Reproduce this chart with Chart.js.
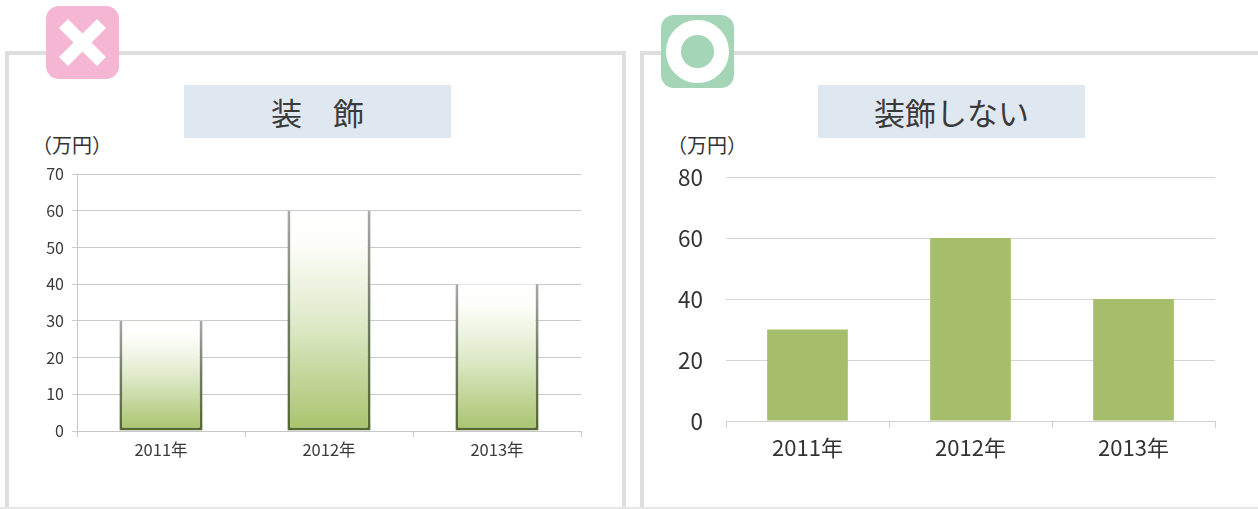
<!DOCTYPE html>
<html lang="ja">
<head>
<meta charset="utf-8">
<script src="https://cdn.jsdelivr.net/npm/chart.js@4"></script>
<style>
html,body{margin:0;padding:0;background:#fff;width:1258px;height:509px;overflow:hidden;font-family:"Noto Sans CJK JP",sans-serif;color:#333}
.abs{position:absolute;box-sizing:border-box}
.panel{border:4px solid #dedede;background:#fff}
.title{background:#dfe7f1;text-align:center;font-size:31px;line-height:53px;color:#3a3a3a}
.unit{white-space:nowrap;color:#333}
canvas{position:absolute}
</style>
</head>
<body>
<div class="abs panel" style="left:5px;top:51px;width:621px;height:470px"></div>
<div class="abs panel" style="left:640px;top:51px;width:640px;height:470px"></div>
<div class="abs" style="left:0;top:507px;width:1258px;height:2px;background:#e6e6e6"></div>

<svg class="abs" style="left:46px;top:6px" width="73" height="73" viewBox="0 0 73 73">
  <rect width="73" height="73" rx="13" fill="#f4b6d2"/>
  <path d="M13 22 L22 13 L36.500 27.500 L51 13 L60 22 L45.500 36.500 L60 51 L51 60 L36.500 45.500 L22 60 L13 51 L27.500 36.500 Z" fill="#fff"/>
</svg>
<svg class="abs" style="left:661px;top:15px" width="73" height="73" viewBox="0 0 73 73">
  <rect width="73" height="73" rx="13" fill="#a3d5b6"/>
  <circle cx="36.500" cy="36.500" r="24" fill="none" stroke="#fff" stroke-width="15"/>
</svg>

<div class="abs title" style="left:184px;top:85px;width:267px;height:53px">装　飾</div>
<div class="abs title" style="left:818px;top:85px;width:267px;height:53px">装飾しない</div>
<div class="abs unit" style="left:32px;top:131px;font-size:20px;line-height:28px">（万円）</div>
<div class="abs unit" style="left:667px;top:131px;font-size:20px;line-height:28px">（万円）</div>

<canvas id="left" width="610" height="320" style="left:10px;top:160px"></canvas>
<canvas id="right" width="613" height="320" style="left:645px;top:160px"></canvas>

<script>
const categories = ["2011年", "2012年", "2013年"];
const revenueDecorated = [30, 60, 40];
const revenuePlain = [30, 60, 40];
const leftTickMax = 70;
const leftTickStep = 10;
const rightTickMax = 80;
const rightTickStep = 20;

const FONT = '"Noto Sans CJK JP","Open Sans",sans-serif';

function barGradient(ctx, stops) {
  const chart = ctx.chart;
  if (!chart.chartArea || ctx.raw === undefined) return stops[stops.length - 1][1];
  const y = chart.scales.y;
  const top = y.getPixelForValue(ctx.raw);
  const bottom = y.getPixelForValue(0);
  const g = chart.ctx.createLinearGradient(0, top, 0, bottom);
  stops.forEach(s => g.addColorStop(s[0], s[1]));
  return g;
}

function fitX(h) {
  return s => { s.height = h; s.paddingLeft = 0; s.paddingRight = 0; };
}
function fitY(w) {
  return s => { s.width = w; s.paddingTop = 0; s.paddingBottom = 0; };
}

new Chart(document.getElementById("left"), {
  type: "bar",
  data: {
    labels: categories,
    datasets: [{
      data: revenueDecorated,
      backgroundColor: c => barGradient(c, [[0, "#ffffff"], [0.15, "#fdfef9"], [0.5, "#dfeaca"], [1, "#a8c36c"]]),
      borderColor: c => barGradient(c, [[0, "#a8a8a8"], [0.5, "#6f7c62"], [1, "#55682f"]]),
      borderWidth: {left: 3, right: 3, bottom: 3, top: 0},
      borderSkipped: false,
      barPercentage: 0.99,
      categoryPercentage: 0.5
    }]
  },
  options: {
    responsive: false,
    animation: false,
    devicePixelRatio: 1,
    layout: {padding: {top: 14, right: 39, bottom: 0, left: 0}},
    plugins: {legend: {display: false}, tooltip: {enabled: false}},
    scales: {
      x: {
        grid: {display: true, drawOnChartArea: false, color: "#c8c8c8", tickLength: 6, offset: true},
        border: {color: "#c8c8c8", width: 1},
        ticks: {color: "#3a3a3a", font: {family: FONT, size: 16.5}, padding: 3, maxRotation: 0},
        afterFit: fitX(49)
      },
      y: {
        min: 0, max: leftTickMax,
        grid: {color: "#cacaca", lineWidth: 1, tickLength: 5},
        border: {color: "#c8c8c8", width: 1},
        ticks: {stepSize: leftTickStep, color: "#3a3a3a", font: {family: FONT, size: 16}, padding: 8},
        afterFit: fitY(67)
      }
    }
  }
});

new Chart(document.getElementById("right"), {
  type: "bar",
  data: {
    labels: categories,
    datasets: [{
      data: revenuePlain,
      backgroundColor: "#a6be6b",
      borderWidth: 0,
      barPercentage: 0.99,
      categoryPercentage: 0.5
    }]
  },
  options: {
    responsive: false,
    animation: false,
    devicePixelRatio: 1,
    layout: {padding: {top: 17, right: 43, bottom: 0, left: 0}},
    plugins: {legend: {display: false}, tooltip: {enabled: false}},
    scales: {
      x: {
        grid: {display: true, drawOnChartArea: false, color: "#d0d0d0", tickLength: 7, offset: true},
        border: {color: "#d0d0d0", width: 1},
        ticks: {color: "#333", font: {family: FONT, size: 22}, padding: 6, maxRotation: 0},
        afterFit: fitX(59)
      },
      y: {
        min: 0, max: rightTickMax,
        grid: {color: "#d4d4d4", lineWidth: 1, drawTicks: false},
        border: {display: false},
        ticks: {stepSize: rightTickStep, color: "#333", font: {family: FONT, size: 22.5}, padding: 23},
        afterFit: fitY(81)
      }
    }
  }
});
</script>
</body>
</html>
